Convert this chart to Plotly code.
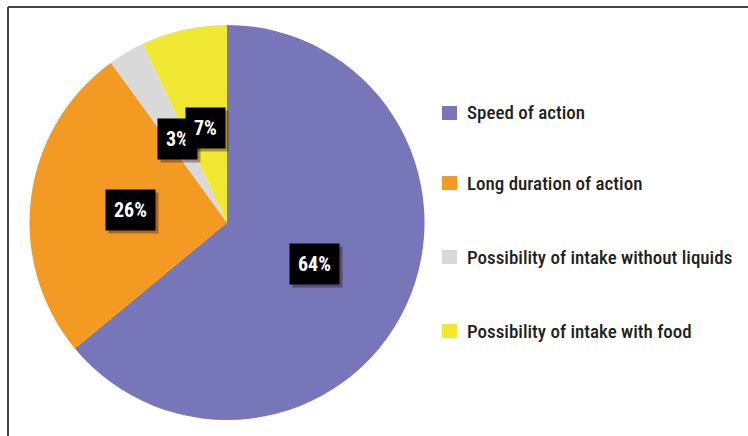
import math
import plotly.graph_objects as go

categories = ["Speed of action", "Long duration of action",
              "Possibility of intake without liquids", "Possibility of intake with food"]
values = [64, 26, 3, 7]
colors = ["#7676B8", "#F39A22", "#D9D9D9", "#F0E833"]

W, H = 748, 436
cx_px, cy_px, R = 227, 222.5, 197.5

fig = go.Figure(go.Pie(
    labels=categories, values=values, sort=False, direction="clockwise", rotation=0,
    marker=dict(colors=colors, line=dict(width=0)),
    textinfo="none", textposition="none", hoverinfo="label+percent", showlegend=False,
    domain=dict(x=[(cx_px - R) / W, (cx_px + R) / W], y=[(H - cy_px - R) / H, (H - cy_px + R) / H]),
))

# percentage labels placed at the middle angle of each slice
total = sum(values)
cum = 0
lab_font = "Liberation Sans Narrow, Arial Narrow, Roboto Condensed, Liberation Sans, sans-serif"
for v in values:
    mid = (cum + v / 2) / total * 2 * math.pi
    cum += v
    rf = 0.49
    px = cx_px + rf * R * math.sin(mid)
    py = cy_px - rf * R * math.cos(mid)
    txt = f"<b>{round(v / total * 100)}%</b>"
    # shadow
    fig.add_annotation(x=(px + 3) / W, y=1 - (py + 3) / H, xref="paper", yref="paper",
                       xanchor="center", yanchor="middle",
                       text=txt, showarrow=False, bgcolor="rgba(40,0,0,0.35)",
                       font=dict(family=lab_font, size=20, color="rgba(0,0,0,0)"), borderpad=8)
    fig.add_annotation(x=px / W, y=1 - py / H, xref="paper", yref="paper",
                       xanchor="center", yanchor="middle",
                       text=txt, showarrow=False, bgcolor="#000000",
                       font=dict(family=lab_font, size=20, color="#FFFFFF"), borderpad=8)

# custom legend
leg_y = [113, 183, 257, 331]
for cat, col, ly in zip(categories, colors, leg_y):
    fig.add_shape(type="rect", xref="paper", yref="paper",
                  x0=442 / W, x1=457 / W, y0=1 - (ly + 7) / H, y1=1 - (ly - 7) / H,
                  fillcolor=col, line=dict(width=0))
    fig.add_annotation(x=465 / W, y=1 - ly / H, xref="paper", yref="paper", text=cat,
                       showarrow=False, xanchor="left", yanchor="middle",
                       font=dict(family=lab_font, size=19, color="#231F20", weight=500))

# frame lines
fig.add_shape(type="line", xref="paper", yref="paper", x0=8 / W, x1=1, y0=1 - 7 / H, y1=1 - 7 / H,
              line=dict(color="#444444", width=2))
fig.add_shape(type="line", xref="paper", yref="paper", x0=8 / W, x1=8 / W, y0=0, y1=1 - 7 / H,
              line=dict(color="#444444", width=2))

fig.update_layout(width=W, height=H, margin=dict(l=0, r=0, t=0, b=0),
                  paper_bgcolor="white", plot_bgcolor="white")
fig.write_html("out.html")
